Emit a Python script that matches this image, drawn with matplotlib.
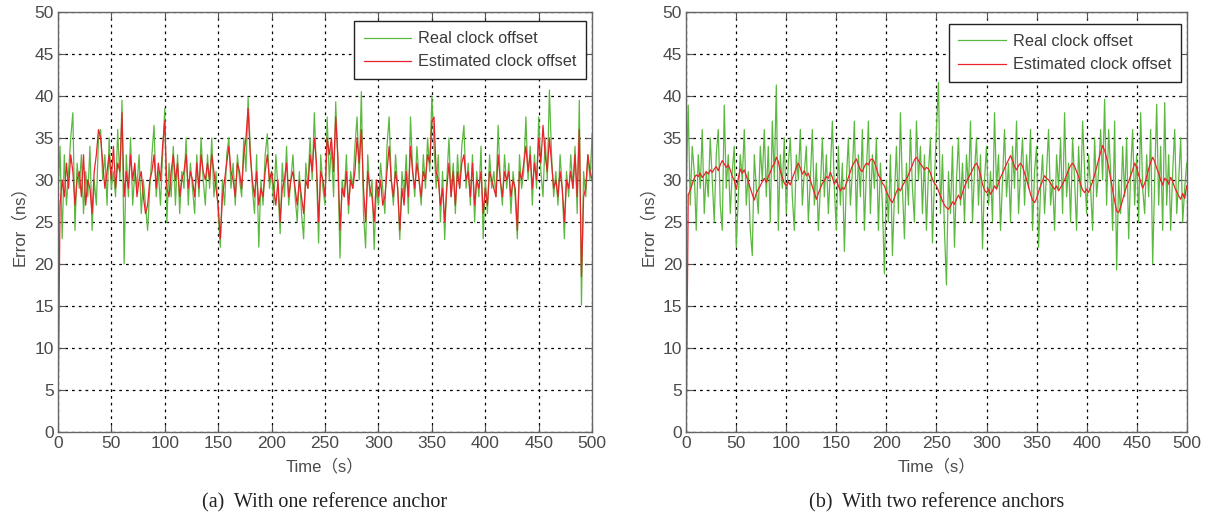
import numpy as np
import matplotlib
matplotlib.use("Agg")
import matplotlib.pyplot as plt
from matplotlib import font_manager

# sample times (s), one value every 2 s
time_s = list(range(0, 501, 2))

# (a) one reference anchor
real_a = [
    28, 34, 23, 33, 27, 31, 35, 38, 24, 32,
    29, 33, 26, 31, 28, 34, 24, 30, 27, 35,
    36, 30, 33, 27, 35, 29, 31, 28, 36, 30,
    39.5, 20, 33, 28, 35, 27, 31, 29, 33, 26,
    30, 27, 24, 29, 33, 36.5, 28, 31, 27, 33,
    38.5, 25, 32, 28, 34, 27, 33, 26, 31, 29,
    35, 27, 32, 29, 26, 33, 28, 35, 30, 27,
    33, 29, 35, 28, 31, 26, 22, 30, 27, 33,
    35, 29, 32, 27, 33, 30, 28, 35, 31, 39.8,
    34, 29, 26, 33, 22, 30, 27, 33, 35.5, 29,
    31, 27, 33, 29, 23.6, 32, 28, 34, 27, 30,
    33, 28, 25, 31, 26, 23, 32, 29, 35, 30,
    38, 31, 22.5, 33, 29, 27, 37.5, 30, 34, 28,
    39.3, 32, 20.7, 30, 28, 33, 26, 31, 29, 34,
    37.5, 30, 40.5, 26, 21.9, 33, 28, 30, 21.7, 29,
    27, 32, 29, 26, 34, 37.5, 30, 27, 33, 29,
    22.9, 31, 28, 33, 26, 37.5, 31, 28, 34, 30,
    27, 33, 29, 35, 31, 40, 34, 29, 33, 25,
    31, 22.9, 30, 35, 28, 32, 26, 33, 29, 34,
    36.5, 29, 32, 27, 33, 25, 31, 28, 34, 23,
    30, 26, 33, 29, 31, 28, 36.5, 30, 27, 33,
    29, 32, 26, 31, 28, 23, 33, 29, 31, 37.5,
    30, 34, 27, 33, 29, 37.5, 31, 28, 35, 30,
    40.7, 33, 28, 31, 27, 33, 29, 23, 31, 28,
    33, 29, 34, 26, 39.5, 15.1, 31, 28, 33, 30,
    35.5,
]
est_a = [
    0, 27, 30, 28, 32, 29, 33, 31, 27, 30,
    31, 28, 33, 27, 30, 29, 26, 31, 33, 36,
    35, 32, 29, 31, 33, 30, 34, 29, 32, 31,
    38, 28, 31, 29, 33, 30, 32, 28, 30, 31,
    28, 26, 27, 30, 31, 33, 29, 32, 30, 34,
    37, 29, 28, 31, 33, 30, 32, 28, 30, 31,
    33, 29, 31, 30, 28, 32, 29, 33, 31, 30,
    32, 30, 33, 31, 29, 27, 23, 28, 30, 32,
    34, 31, 30, 28, 32, 31, 29, 33, 35, 38.5,
    33, 30, 28, 31, 27, 29, 28, 31, 33, 30,
    31, 29, 27, 30, 25, 29, 30, 32, 28, 30,
    31, 29, 27, 30, 28, 26, 30, 29, 33, 31,
    35, 32, 25, 31, 30, 28, 35, 33, 35, 31,
    37.5, 33, 24, 29, 28, 31, 27, 30, 29, 31,
    35, 32, 36, 29, 25, 31, 29, 28, 25, 30,
    28, 30, 27, 28, 31, 34, 30, 28, 31, 29,
    24, 29, 27, 31, 28, 34, 31, 29, 32, 30,
    28, 31, 30, 33, 32, 37, 37.5, 31, 30, 27,
    29, 25, 29, 32, 28, 31, 27, 31, 29, 32,
    33, 30, 31, 28, 32, 27, 30, 29, 31, 26,
    29, 27, 31, 30, 29, 28, 33, 30, 28, 31,
    30, 31, 28, 30, 29, 24, 31, 30, 32, 34,
    31, 33, 29, 32, 30, 35, 32, 36.5, 33, 31,
    35, 32, 29, 30, 28, 31, 29, 25, 30, 29,
    31, 29, 33, 28, 36, 18.5, 28, 29, 33, 31,
    30,
]

# (b) two reference anchors
real_b = [
    29, 38.9, 27, 34, 31, 24, 33, 29, 36, 26,
    31, 28, 35, 30, 25, 33, 36, 27, 24, 38.9,
    29, 33, 26, 31, 34, 22, 28, 33, 30, 36,
    27, 31, 24, 21, 33, 29, 26, 34, 30, 36,
    28, 34, 25, 37, 30, 41.3, 24, 33, 29, 35,
    26, 32, 35, 28, 24, 33, 30, 36, 27, 31,
    34, 25, 30, 36, 27, 32, 24, 29, 35, 28,
    33, 26, 31, 37, 29, 24, 34, 27, 32, 21.5,
    30, 35, 27, 31, 37, 25, 33, 28, 36, 24,
    31, 37, 26, 33, 29, 35, 24, 32, 27, 18.8,
    30, 25, 33, 21, 28, 34, 26, 38, 29, 23,
    32, 27, 36, 29, 25, 37, 30, 34, 26, 33,
    24, 31, 35, 22.5, 30, 36, 41.6, 26, 33, 24,
    17.5, 31, 26, 34, 22, 30, 35, 27, 32, 25,
    33, 29, 37, 25, 31, 35, 27, 33, 21.8, 30,
    34, 27, 31, 25, 38, 29, 33, 24, 30, 36,
    28, 32, 25, 34, 29, 37, 26, 31, 35, 27,
    33, 29, 36, 24, 31, 34, 22, 29, 33, 26,
    31, 36, 27, 30, 24, 33, 29, 35, 26, 38,
    28, 32, 25, 35, 30, 24, 34, 28, 37, 31,
    26, 33, 29, 24, 35, 28, 31, 36, 30, 39.6,
    27, 36, 31, 24, 37, 19.3, 30, 26, 34, 28,
    35, 23, 31, 36, 27, 33, 25, 38, 29, 26,
    33, 28, 36, 20, 30, 39, 27, 34, 24, 39.2,
    27, 33, 24, 31, 36, 26, 30, 35, 25, 29,
    32,
]
est_b = [
    0, 28.2, 28.8, 29.5, 30.2, 30.6, 30.4, 30.8, 30.3, 30.6,
    31.0, 30.7, 31.2, 30.9, 31.3, 31.6, 31.1, 31.8, 32.3, 31.9,
    31.5, 31.8, 31.2, 30.4, 30.0, 28.9, 30.2, 31.3, 30.8, 31.2,
    30.5, 29.8, 29.0, 28.3, 27.6, 28.4, 28.9, 29.3, 29.8, 30.2,
    29.7, 30.4, 30.9, 31.6, 31.9, 32.7, 32.2, 31.0, 30.3, 29.6,
    29.3, 29.8, 29.4, 30.2, 30.8, 31.5, 32.0, 31.4, 30.7, 31.1,
    30.5, 30.8, 30.0, 29.2, 28.5, 27.7, 28.4, 29.0, 29.6, 29.9,
    30.4, 30.2, 30.9, 30.3, 29.5, 30.1, 29.3, 28.7, 29.1, 28.9,
    29.6, 30.3, 31.0, 31.7, 32.1, 32.5, 31.8, 31.2, 31.0, 31.6,
    32.0, 31.8, 32.4, 32.5, 32.1, 31.4, 30.6, 30.2, 29.6, 29.3,
    28.6, 28.1, 27.6, 27.3, 27.9, 28.6, 29.0, 28.7, 29.3, 29.7,
    30.1, 30.6, 31.2, 31.8, 32.4, 32.7, 32.3, 31.9, 31.6, 31.2,
    31.5, 31.3, 30.8, 30.1, 29.6, 29.3, 28.7, 28.1, 27.5, 27.0,
    26.7, 26.5, 26.9, 27.4, 27.1, 27.7, 28.2, 27.7, 28.5, 29.2,
    29.8, 30.3, 30.7, 31.2, 31.7, 32.0, 31.5, 30.6, 29.5, 28.8,
    28.5, 28.9, 28.3, 28.7, 29.3, 28.9, 29.6, 30.3, 30.8, 31.4,
    31.9, 32.4, 32.9, 32.3, 31.6, 31.2, 31.7, 32.0, 31.6, 30.8,
    30.1, 29.2, 28.3, 27.6, 27.3, 27.8, 28.6, 29.3, 29.9, 30.5,
    30.2, 30.0, 29.6, 29.2, 28.9, 29.3, 28.7, 29.1, 29.5, 30.0,
    30.6, 31.2, 31.7, 32.0, 31.6, 31.0, 30.4, 29.5, 28.8, 28.5,
    28.9, 28.5, 29.2, 29.8, 30.6, 31.5, 32.4, 33.3, 34.1, 33.5,
    32.6, 31.5, 30.2, 28.8, 27.5, 26.3, 26.1, 26.8, 27.6, 28.5,
    29.3, 29.8, 30.5, 31.2, 32.0, 31.5, 30.6, 29.8, 29.0, 29.6,
    30.4, 31.3, 32.1, 32.7, 32.2, 31.4, 30.8, 30.0, 29.4, 30.2,
    30.0, 29.5, 30.3, 29.8, 29.1, 28.6, 28.1, 27.7, 28.4, 27.8,
    29.3,
]

legend_labels = ["Real clock offset", "Estimated clock offset"]
captions = ["(a)  With one reference anchor", "(b)  With two reference anchors"]
x_ticks = [0, 50, 100, 150, 200, 250, 300, 350, 400, 450, 500]
y_ticks = [0, 5, 10, 15, 20, 25, 30, 35, 40, 45, 50]

GREEN = "#5cb840"
RED = "#e8232b"

available = {f.name for f in font_manager.fontManager.ttflist}
sans = "Liberation Sans Narrow" if "Liberation Sans Narrow" in available else "Liberation Sans"
label_family = [sans, "Noto Sans CJK SC"]

fig = plt.figure(figsize=(12.06, 5.18), dpi=100)
axes_boxes = [(0.048, 0.166, 0.443, 0.811), (0.569, 0.166, 0.415, 0.811)]
legend_anchor = [(0.995, 0.985), (0.995, 0.978)]
panels = [(real_a, est_a), (real_b, est_b)]

for k, (box, (real, est)) in enumerate(zip(axes_boxes, panels)):
    ax = fig.add_axes(box)
    ax.plot(time_s, real, color=GREEN, lw=0.9, label=legend_labels[0])
    ax.plot(time_s, est, color=RED, lw=0.9, label=legend_labels[1])
    ax.set_xlim(0, 500)
    ax.set_ylim(0, 50)
    ax.set_xticks(x_ticks)
    ax.set_yticks(y_ticks)
    ax.grid(True, color="black", linestyle=(0, (2.2, 3.2)), lw=0.9)
    ax.tick_params(direction="in", top=True, right=True, length=5,
                   colors="#555555", labelcolor="#4a4a4a", labelsize=12.5, pad=3)
    for lab in ax.get_xticklabels() + ax.get_yticklabels():
        lab.set_family(sans)
    for sp in ax.spines.values():
        sp.set_color("#666666")
        sp.set_linewidth(1.0)
    ax.set_xlabel("Time（s）", family=label_family, fontsize=12, color="#4a4a4a", labelpad=5)
    ax.set_ylabel("Error（ns）", family=label_family, fontsize=12, color="#4a4a4a", labelpad=5)
    leg = ax.legend(loc="upper right", bbox_to_anchor=legend_anchor[k], fancybox=False,
                    edgecolor="#222222", framealpha=1, handlelength=2.9,
                    prop={"family": sans, "size": 11.7}, borderaxespad=0.2,
                    labelspacing=0.5, handletextpad=0.45, borderpad=0.6)
    leg.get_frame().set_linewidth(1.0)
    for t in leg.get_texts():
        t.set_color("#3a3a3a")
    cx = box[0] + box[2] / 2
    fig.text(cx, 0.03, captions[k], ha="center", va="center",
             family="Liberation Serif", fontsize=14.5, color="#222222")

fig.savefig("out.png", dpi=100)
